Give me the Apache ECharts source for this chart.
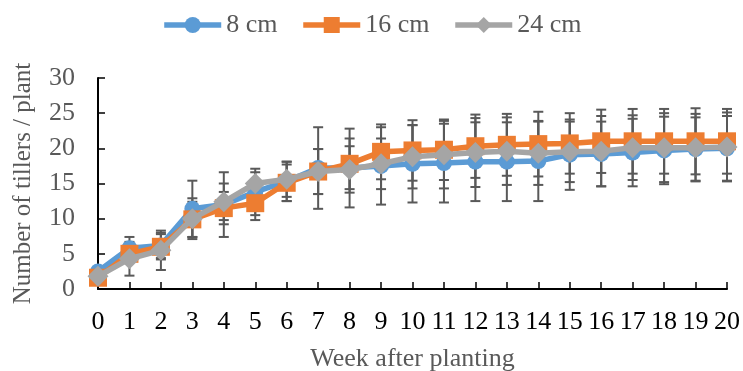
<!DOCTYPE html>
<html><head><meta charset="utf-8">
<script src="https://cdn.jsdelivr.net/npm/echarts@6/dist/echarts.min.js"></script>
<style>html,body{margin:0;padding:0;background:#fff}#c{width:743px;height:371px}</style>
</head><body><div id="c"></div>
<script>
const weeks = [0,1,2,3,4,5,6,7,8,9,10,11,12,13,14,15,16,17,18,19,20];
const seriesNames = ['8 cm', '16 cm', '24 cm'];
const mean8  = [2.5, 5.8, 6.2, 11.4, 12.0, 13.8, 15.3, 17.2, 17.2, 17.5, 17.8, 17.9, 18.1, 18.1, 18.2, 19.1, 19.2, 19.4, 19.7, 19.9, 20.0];
const sd8    = [0.5, 1.6, 1.8, 4.0, 4.6, 3.3, 2.8, 5.8, 5.6, 5.5, 5.5, 5.6, 5.6, 5.6, 5.7, 5.0, 4.6, 4.8, 4.8, 4.5, 4.6];
const mean16 = [1.6, 5.0, 6.0, 9.9, 11.5, 12.2, 15.1, 16.7, 17.8, 19.5, 19.7, 19.8, 20.3, 20.5, 20.6, 20.7, 21.0, 21.0, 21.0, 21.0, 21.0];
const sd16   = [0.4, 1.0, 1.8, 2.5, 2.3, 2.4, 2.6, 3.2, 3.6, 3.9, 4.3, 4.3, 4.5, 4.4, 4.6, 4.3, 4.5, 4.6, 4.6, 4.7, 4.6];
const mean24 = [1.8, 4.3, 5.5, 10.0, 12.4, 15.0, 15.6, 16.7, 17.0, 17.8, 18.8, 19.1, 19.4, 19.6, 19.3, 19.5, 19.6, 20.1, 20.1, 20.1, 20.2];
const sd24   = [0.4, 2.4, 2.8, 2.9, 2.6, 1.6, 2.5, 3.2, 3.3, 3.6, 4.5, 4.8, 4.9, 4.8, 4.5, 4.3, 5.0, 4.6, 4.9, 4.8, 4.9];
const yTicks = [0, 5, 10, 15, 20, 25, 30];

const FONT = "'Liberation Serif', 'Times New Roman', serif";
const colors = ['#5B9BD5', '#ED7D31', '#A5A5A5'];
const symbols = ['circle', 'rect', 'diamond'];
const symSizes = [16, 18, 21];
const means = [mean8, mean16, mean24];
const sds = [sd8, sd16, sd24];

function errSeries(idx) {
  return {
    type: 'custom',
    name: 'err' + idx,
    z: 1,
    silent: true,
    data: weeks.map((w, i) => [w, means[idx][i] - sds[idx][i], means[idx][i] + sds[idx][i]]),
    renderItem: function (params, api) {
      const lo = api.coord([api.value(0), api.value(1)]);
      const hi = api.coord([api.value(0), api.value(2)]);
      const hw = 5;
      const st = { stroke: '#595959', lineWidth: 2 };
      return {
        type: 'group',
        children: [
          { type: 'line', shape: { x1: lo[0], y1: lo[1], x2: hi[0], y2: hi[1] }, style: st },
          { type: 'line', shape: { x1: lo[0] - hw, y1: lo[1], x2: lo[0] + hw, y2: lo[1] }, style: st },
          { type: 'line', shape: { x1: hi[0] - hw, y1: hi[1], x2: hi[0] + hw, y2: hi[1] }, style: st }
        ]
      };
    }
  };
}

function lineSeries(idx) {
  return {
    type: 'line',
    name: seriesNames[idx],
    z: 2 + idx,
    data: weeks.map((w, i) => [w, means[idx][i]]),
    symbol: symbols[idx],
    symbolSize: symSizes[idx],
    showAllSymbol: true,
    color: colors[idx],
    itemStyle: { color: colors[idx], borderWidth: 0 },
    lineStyle: { color: colors[idx], width: 5.5 },
    emphasis: { disabled: true },
    animation: false
  };
}

const chart = echarts.init(document.getElementById('c'));
chart.setOption({
  animation: false,
  backgroundColor: '#fff',
  textStyle: { fontFamily: FONT },
  legend: {
    data: seriesNames,
    top: 7,
    left: 'center',
    itemWidth: 57,
    itemHeight: 20,
    itemGap: 23,
    lineStyle: { width: 5.5 },
    textStyle: { fontFamily: FONT, fontSize: 26, color: '#595959' }
  },
  grid: { left: 98, right: 16, top: 78, bottom: 82, containLabel: false, outerBoundsMode: 'none' },
  xAxis: {
    type: 'value',
    min: 0, max: 20, interval: 1,
    name: 'Week after planting',
    nameLocation: 'middle',
    nameGap: 57,
    nameTextStyle: { fontFamily: FONT, fontSize: 26, color: '#595959' },
    axisLine: { show: true, lineStyle: { color: '#000', width: 2 } },
    axisTick: { show: true, inside: true, length: 7, lineStyle: { color: '#000', width: 1.5 } },
    axisLabel: { fontFamily: FONT, fontSize: 26, color: '#000', margin: 20, hideOverlap: false, showMinLabel: true, showMaxLabel: true },
    splitLine: { show: false }
  },
  yAxis: {
    type: 'value',
    min: yTicks[0], max: yTicks[yTicks.length - 1], interval: 5,
    name: 'Number of tillers / plant',
    nameLocation: 'middle',
    nameGap: 62,
    nameTextStyle: { fontFamily: FONT, fontSize: 25, color: '#595959' },
    axisLine: { show: true, lineStyle: { color: '#000', width: 2 } },
    axisTick: { show: true, inside: true, length: 7, lineStyle: { color: '#000', width: 1.5 } },
    axisLabel: { fontFamily: FONT, fontSize: 26, color: '#595959', margin: 23 },
    splitLine: { show: false }
  },
  series: [errSeries(0), errSeries(1), errSeries(2), lineSeries(0), lineSeries(1), lineSeries(2)]
});
</script>
</body></html>
